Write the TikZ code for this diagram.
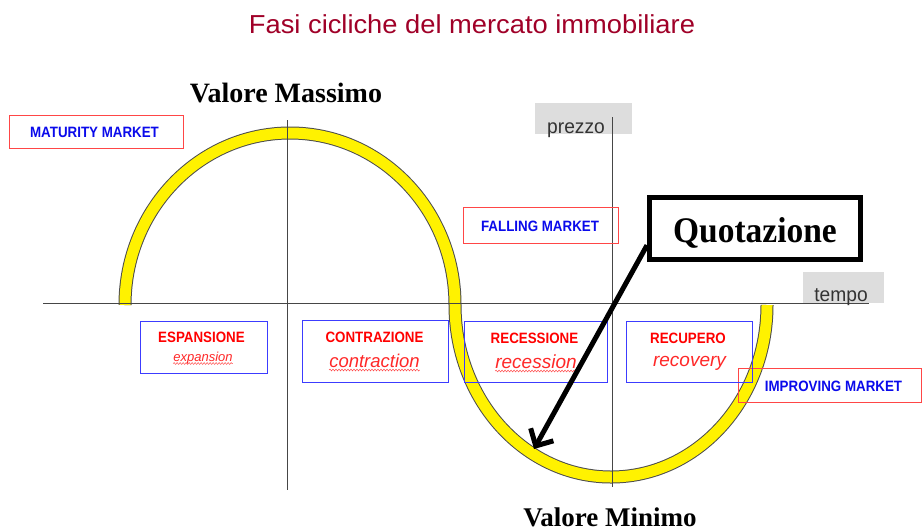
\documentclass[tikz,border=0pt]{standalone}
\usepackage{fontspec}
\setmainfont{Liberation Serif}
\newfontfamily\narrowsans[FakeStretch=0.89]{Liberation Sans}
\newfontfamily\titlesans[FakeStretch=1.05]{Liberation Sans}
\newfontfamily\axissans[FakeStretch=0.96]{Liberation Sans}
\newfontfamily\plainsans{Liberation Sans}
\usetikzlibrary{arrows.meta,calc,decorations.pathmorphing}
\definecolor{titlered}{RGB}{160,0,40}
\definecolor{boxred}{RGB}{255,70,70}
\definecolor{boxblue}{RGB}{60,60,255}
\definecolor{mktblue}{RGB}{10,10,235}
\definecolor{phred}{RGB}{255,0,0}
\definecolor{itred}{RGB}{255,40,40}
\definecolor{lgray}{RGB}{221,221,221}
\definecolor{axgray}{RGB}{70,70,70}
\tikzset{
  txt/.style={inner sep=0pt, anchor=base},
  mktbox/.style={draw=boxred, line width=1pt, inner sep=0pt},
  phbox/.style={draw=boxblue, line width=1pt, inner sep=0pt},
  graybox/.style={fill=lgray, draw=none, inner sep=0pt},
  mkttext/.style={txt, text=mktblue, font=\narrowsans\bfseries\fontsize{15}{15}\selectfont},
  phtext/.style={txt, text=phred, font=\narrowsans\bfseries\fontsize{15}{15}\selectfont},
  ittext/.style={txt, text=itred, font=\plainsans\itshape\fontsize{19}{19}\selectfont},
  axtext/.style={txt, text=black!80, font=\axissans\fontsize{20}{20}\selectfont},
  sertext/.style={txt, text=black, font=\bfseries\fontsize{28}{28}\selectfont},
  axisline/.style={draw=axgray, line width=1pt},
  squig/.style={draw=red!70, line width=0.5pt, decorate, decoration={snake, amplitude=0.9pt, segment length=3pt}},
}
\begin{document}
\begin{tikzpicture}[x=1pt,y=-1pt]
\useasboundingbox[fill=white] (0,0) rectangle (923,531);

% title
\node[txt, text=titlered, font=\titlesans\fontsize{26}{26}\selectfont] (title) at (472,33) {Fasi cicliche del mercato immobiliare};

% gray label boxes
\node[graybox, minimum width=97pt, minimum height=31pt] (pbox) at (583.5,118.5) {};
\node[graybox, minimum width=81pt, minimum height=31pt] (tbox) at (843.5,287.5) {};

% yellow curve
\draw[line width=13pt, black!70] (125,305) arc[start angle=-180, end angle=0, x radius=165, y radius=172]
  arc[start angle=180, end angle=0, x radius=156, y radius=172];
\draw[line width=11pt, yellow] (125,305) arc[start angle=-180, end angle=0, x radius=165, y radius=172]
  arc[start angle=180, end angle=0, x radius=156, y radius=172];

% axes
\coordinate (hL) at (43,303);
\coordinate (hR) at (869,303);
\coordinate (v1T) at (287,120);
\coordinate (v1B) at (287,490);
\coordinate (v2T) at (612,117);
\coordinate (v2B) at (612,487);
\draw[axisline] (hL) -- (hR);
\draw[axisline] (v1T) -- (v1B);
\draw[axisline] (v2T) -- (v2B);

\node[axtext] (prezzo) at (576,133) {prezzo};
\node[axtext] (tempo) at (841,301) {tempo};

% extreme values
\node[sertext] (vmax) at (286,102) {Valore Massimo};
\node[sertext, font=\bfseries\fontsize{27}{27}\selectfont] (vmin) at (610,526) {Valore Minimo};

% market boxes
\node[mktbox, minimum width=174pt, minimum height=33pt] (matB) at (96,131.5) {};
\node[mkttext] (matT) at (94.5,137) {MATURITY MARKET};
\node[mktbox, minimum width=155pt, minimum height=36pt] (falB) at (540.5,225) {};
\node[mkttext] (falT) at (540,231) {FALLING MARKET};
\node[mktbox, minimum width=183pt, minimum height=34pt] (impB) at (829.5,385) {};
\node[mkttext] (impT) at (833.5,391.5) {IMPROVING MARKET};

% phase boxes
\node[phbox, minimum width=127pt, minimum height=52pt] (espB) at (203.5,347) {};
\node[phtext] (espC) at (201.5,342.5) {ESPANSIONE};
\node[ittext, font=\plainsans\itshape\fontsize{13}{13}\selectfont] (espI) at (203,361) {expansion};
\draw[squig] ($(espI.base west)+(0,2.5)$) -- ($(espI.base east)+(0,2.5)$);

\node[phbox, minimum width=146pt, minimum height=62pt] (conB) at (375,351) {};
\node[phtext] (conC) at (374.5,342.5) {CONTRAZIONE};
\node[ittext, font=\plainsans\itshape\fontsize{18.5}{18.5}\selectfont] (conI) at (374.5,367) {contraction};
\draw[squig] ($(conI.base west)+(0,3)$) -- ($(conI.base east)+(0,3)$);

\node[phbox, minimum width=143pt, minimum height=61pt] (recB) at (535.5,351.5) {};
\node[phtext] (recC) at (534.5,343) {RECESSIONE};
\node[ittext] (recI) at (536,368) {recession};
\draw[squig] ($(recI.base west)+(0,3)$) -- ($(recI.base east)+(0,3)$);

\node[phbox, minimum width=126pt, minimum height=61pt] (rcpB) at (689,351.5) {};
\node[phtext] (rcpC) at (688,343) {RECUPERO};
\node[ittext] (rcpI) at (689.5,366.5) {recovery};

% Quotazione callout
\node[draw=black, line width=5pt, fill=white, minimum width=211pt, minimum height=62pt, inner sep=0pt] (quot) at (755,228.5) {};
\node[txt, text=black, font=\bfseries\fontsize{36}{36}\selectfont] (quotT) at (755,242) {\addfontfeatures{FakeStretch=0.93}Quotazione};
\coordinate (qtip) at (534,449);
\draw[line width=5pt, -{Straight Barb[length=13pt,width=26pt]}] ($(quot.south west)!0.25!(quot.north west)$) -- (qtip);
\end{tikzpicture}
\end{document}
